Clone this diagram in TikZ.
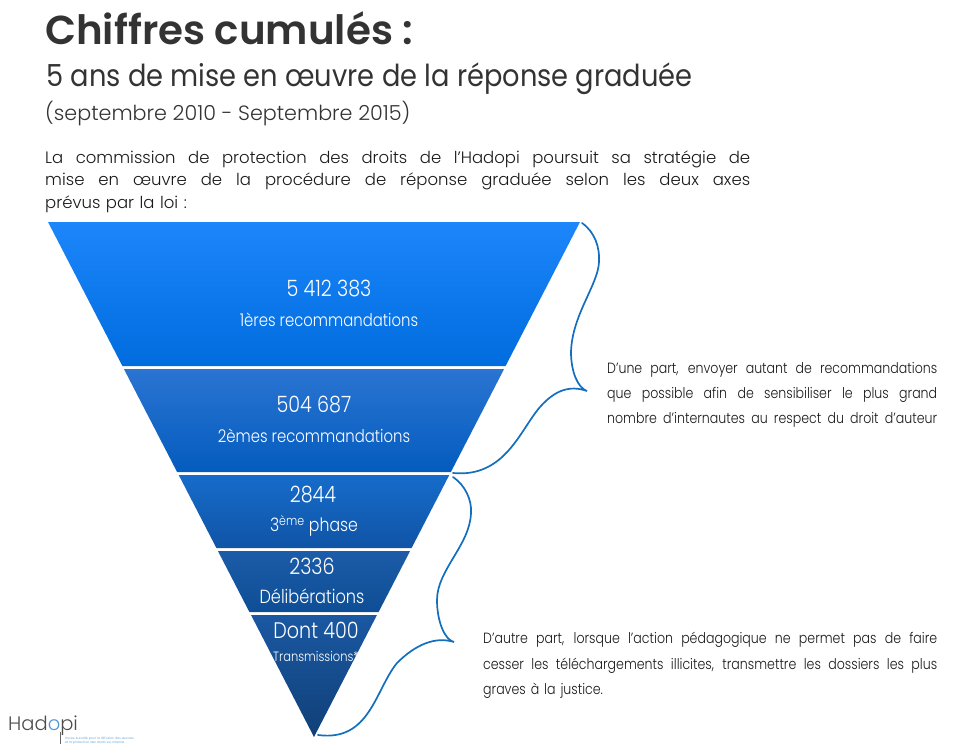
\documentclass[tikz,border=0pt]{standalone}
\usepackage{fontspec}
\usepackage{xcolor}
\setmainfont{Poppins}
\newfontfamily\geofont{Poppins}[UprightFont={* Light}]
\newfontfamily\geosemi{Poppins}[UprightFont={* SemiBold}]
\newfontfamily\geonarrow{Poppins}[UprightFont={* Light}, FakeStretch=0.85]
\newfontfamily\geomed{Poppins}[FakeStretch=0.9]
\usetikzlibrary{positioning, calc}
\definecolor{titlegray}{RGB}{51,51,51}
\definecolor{bracecol}{RGB}{20,110,190}
\definecolor{logoblue}{RGB}{80,150,210}
\tikzset{
  title/.style={anchor=west, inner sep=0pt, text=titlegray},
  bodytext/.style={anchor=north west, inner sep=0pt, text=black!90},
  band/.style={draw=none},
  count/.style={text=white, inner sep=0pt, font=\geonarrow\fontsize{22.5}{24}\selectfont},
  bracket/.style={draw=bracecol, line width=1.7pt, line cap=round},
}
\newcommand{\jline}[2]{{\spaceskip=\fontdimen2\font plus 1fil minus .1em\relax\makebox[#1pt][s]{#2}}}
\begin{document}
\begin{tikzpicture}[x=1pt, y=-1pt]
  \useasboundingbox (0,0) rectangle (977,749);

  % headings
  \node[title, font=\geosemi\fontsize{40.4}{44}\selectfont] (T1) at (45,28) {Chiffres cumulés :};
  \node[title, font=\geomed\fontsize{30.3}{34}\selectfont] (T2) at (46,79) {5 ans de mise en œuvre de la réponse graduée};
  \node[title, font=\geofont\fontsize{20.7}{24}\selectfont] (T3) at (45,114) {(septembre 2010 - Septembre 2015)};

  \node[bodytext, font=\geofont\fontsize{16.5}{22.5}\selectfont, text width=705pt] (intro) at (45,150.5)
    {\jline{705}{La commission de protection des droits de l’Hadopi poursuit sa stratégie de}\\
     \jline{705}{mise en œuvre de la procédure de réponse graduée selon les deux axes}\\
     prévus par la loi :};

  % the five bands
  \shade[band, top color={rgb,255:red,28;green,134;blue,250}, middle color={rgb,255:red,22;green,128;blue,245},
         bottom color={rgb,255:red,0;green,108;blue,222}]
    (48,222) -- (580,222) -- (505.6,366) -- (122.4,366) -- cycle;
  \shade[band, top color={rgb,255:red,42;green,116;blue,210}, bottom color={rgb,255:red,4;green,92;blue,190}]
    (123.9,369) -- (504.1,369) -- (450.9,472) -- (177.1,472) -- cycle;
  \shade[band, top color={rgb,255:red,22;green,108;blue,202}, bottom color={rgb,255:red,16;green,84;blue,166}]
    (178.7,475) -- (449.3,475) -- (411.6,548) -- (216.4,548) -- cycle;
  \shade[band, top color={rgb,255:red,28;green,92;blue,168}, bottom color={rgb,255:red,14;green,78;blue,150}]
    (217.9,551) -- (410.1,551) -- (378.6,612) -- (249.4,612) -- cycle;
  \shade[band, top color={rgb,255:red,26;green,88;blue,162}, bottom color={rgb,255:red,16;green,64;blue,120}]
    (251,615) -- (377,615) -- (314,737) -- cycle;

  % band labels
  \node[count] (n1) at (329,289) {5 412 383};
  \node[count, font=\geonarrow\fontsize{17.5}{20}\selectfont] (l1) at (329,320) {1ères recommandations};
  \node[count] (n2) at (314,405) {504 687};
  \node[count, font=\geonarrow\fontsize{17.5}{20}\selectfont] (l2) at (314,436) {2èmes recommandations};
  \node[count] (n3) at (313,495) {2844};
  \node[count, font=\geonarrow\fontsize{18.5}{20}\selectfont] (l3) at (314,526) {3\textsuperscript{ème} phase};
  \node[count] (n4) at (312,566) {2336};
  \node[count, font=\geonarrow\fontsize{19}{20}\selectfont] (l4) at (312,596) {Délibérations};
  \node[count] (n5) at (316,630) {Dont 400};
  \node[count, font=\geonarrow\fontsize{13.5}{16}\selectfont] (l5) at (316,656) {Transmissions*};

  % braces
  \draw[bracket] (582,223) .. controls (595,232) and (600,248) .. (599,262)
    .. controls (598,285) and (572,315) .. (571,352)
    .. controls (571,372) and (578,388) .. (587,391)
    .. controls (570,385) and (555,390) .. (540,407)
    .. controls (520,430) and (505,478) .. (453,473);
  \draw[bracket] (453,477) .. controls (465,485) and (472,500) .. (471,513)
    .. controls (470,545) and (437,570) .. (437,600)
    .. controls (437,622) and (445,640) .. (454,642)
    .. controls (435,636) and (415,645) .. (397,663)
    .. controls (375,690) and (370,742) .. (318,735);

  % side texts
  \node[bodytext, font=\geonarrow\fontsize{14.8}{25}\selectfont, text width=330pt] (side1) at (607,362)
    {\jline{330}{D’une part, envoyer autant de recommandations}\\
     \jline{330}{que possible afin de sensibiliser le plus grand}\\
     \jline{330}{nombre d’internautes au respect du droit d’auteur}};
  \node[bodytext, font=\geonarrow\fontsize{14.8}{25.5}\selectfont, text width=454pt] (side2) at (483,632)
    {\jline{454}{D’autre part, lorsque l’action pédagogique ne permet pas de faire}\\
     \jline{454}{cesser les téléchargements illicites, transmettre les dossiers les plus}\\
     graves à la justice.};

  % logo
  \node[anchor=west, inner sep=0pt, text=black!70, font=\geofont\fontsize{19.5}{22}\selectfont] (logo) at (8,726)
    {Had\textcolor{logoblue}{o}pi};
  \draw[black!60, line width=0.5pt] (60.5,732) -- (60.5,744);
  \node[anchor=north west, inner sep=0pt, text=logoblue, align=left, font=\geofont\fontsize{3.2}{4}\selectfont] (slogan) at (65,736.5)
    {Haute Autorité pour la diffusion des œuvres\\et la protection des droits sur internet};
\end{tikzpicture}
\end{document}
